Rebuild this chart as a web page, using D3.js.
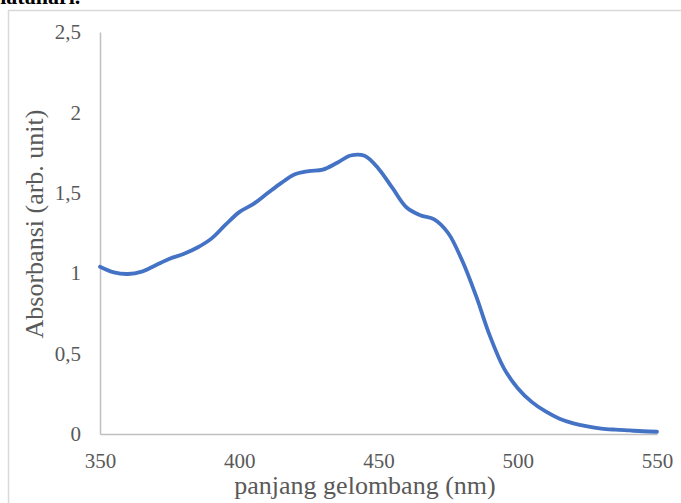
<!DOCTYPE html>
<html>
<head>
<meta charset="utf-8">
<script src="https://cdn.jsdelivr.net/npm/d3@7"></script>
<style>
  body { margin: 0; background: #fff; }
  svg { display: block; }
</style>
</head>
<body>
<svg id="spectrum" width="681" height="503"></svg>
<script>
// wavelength (nm) and absorbance
let wavelengths = [350, 355, 360, 365, 370, 375, 380, 385, 390, 395,
  400, 405, 410, 415, 420, 425, 430, 435, 440, 445,
  450, 455, 460, 465, 470, 475, 480, 485, 490, 495,
  500, 505, 510, 515, 520, 525, 530, 535, 540, 545, 550];
let absorbance = [1.04, 1.005, 0.995, 1.01, 1.05, 1.09, 1.12, 1.16, 1.215, 1.3,
  1.38, 1.43, 1.495, 1.56, 1.615, 1.635, 1.644, 1.685, 1.732, 1.73,
  1.65, 1.53, 1.41, 1.36, 1.335, 1.25, 1.08, 0.86, 0.61, 0.41,
  0.285, 0.20, 0.14, 0.095, 0.066, 0.047, 0.034, 0.027, 0.022, 0.017, 0.014];

let xTicks = [350, 400, 450, 500, 550];
let yTicks = [0, 0.5, 1, 1.5, 2, 2.5];

let svg = d3.select("#spectrum");
let serif = "'Liberation Serif', 'Times New Roman', serif";

// caption text from the page above (cut off at the top)
svg.append("text")
  .attr("x", -12)
  .attr("y", 4)
  .style("font-family", serif)
  .style("font-weight", "bold")
  .style("font-size", "22px")
  .text("matahari.");

// chart area border
svg.append("rect")
  .attr("x", 8.5)
  .attr("y", 10.5)
  .attr("width", 700)
  .attr("height", 520)
  .attr("fill", "none")
  .attr("stroke", "#d9d9d9")
  .attr("stroke-width", 1.5);

let plotLeft = 100, plotRight = 657, plotTop = 32, plotBottom = 434;

// scales
let xScale = d3.scaleLinear()
  .domain([350, 550])
  .range([plotLeft, plotRight]);

let yScale = d3.scaleLinear()
  .domain([0, 2.5])
  .range([plotBottom, plotTop]);

// y-axis
let yAxis = d3.axisLeft(yScale)
  .tickValues(yTicks)
  .tickSize(0)
  .tickPadding(19)
  .tickFormat(d => String(d).replace(".", ","));

let gy = svg.append("g")
  .attr("transform", `translate(${plotLeft},0)`)
  .call(yAxis);
gy.select(".domain").attr("stroke", "#bfbfbf").attr("stroke-width", 1.5);
gy.selectAll("text")
  .style("font-family", serif)
  .style("font-size", "21px")
  .attr("fill", "#595959");

// x-axis
let xAxis = d3.axisBottom(xScale)
  .tickValues(xTicks)
  .tickSize(0)
  .tickPadding(19);

let gx = svg.append("g")
  .attr("transform", `translate(0,${plotBottom})`)
  .call(xAxis);
gx.select(".domain").attr("stroke", "#bfbfbf").attr("stroke-width", 1.5);
gx.selectAll("text")
  .style("font-family", serif)
  .style("font-size", "21px")
  .attr("fill", "#595959");

// the spectrum line
let line = d3.line()
  .x((d, i) => xScale(wavelengths[i]))
  .y(d => yScale(d))
  .curve(d3.curveCatmullRom.alpha(0.5));

svg.append("path")
  .datum(absorbance)
  .attr("d", line)
  .attr("fill", "none")
  .attr("stroke", "#4472c4")
  .attr("stroke-width", 3.8)
  .attr("stroke-linecap", "round");

// axis titles
svg.append("text")
  .attr("x", 365)
  .attr("y", 494)
  .style("text-anchor", "middle")
  .style("font-family", serif)
  .style("font-size", "26px")
  .attr("fill", "#595959")
  .text("panjang gelombang (nm)");

svg.append("text")
  .attr("transform", "rotate(-90)")
  .attr("x", -224)
  .attr("y", 43)
  .style("text-anchor", "middle")
  .style("font-family", serif)
  .style("font-size", "26px")
  .attr("fill", "#595959")
  .text("Absorbansi (arb. unit)");
</script>
</body>
</html>
